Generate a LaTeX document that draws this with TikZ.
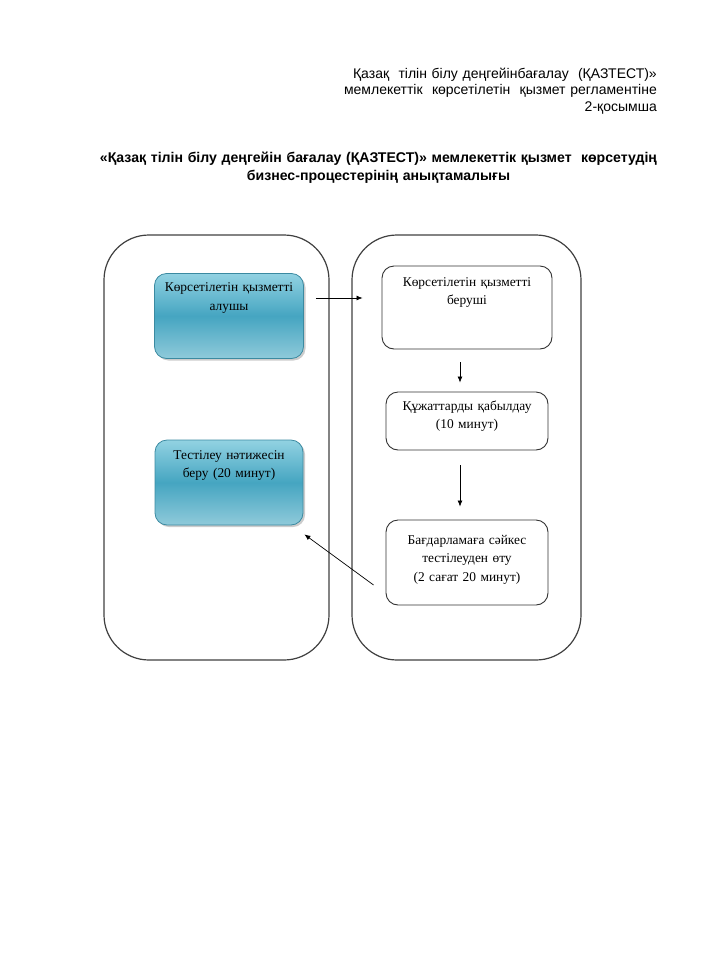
\documentclass[tikz,border=0pt]{standalone}
\usepackage{fontspec}
\setmainfont{Liberation Serif}
\newfontfamily\headfont{Liberation Sans}
\usetikzlibrary{positioning,shadows,arrows.meta}

\definecolor{bluetop}{HTML}{92D2E2}
\definecolor{bluemid}{HTML}{45A5C1}
\definecolor{bluebot}{HTML}{8FCADA}
\definecolor{blueline}{HTML}{3B8AA1}

\begin{document}
\begin{tikzpicture}[x=1pt, y=-1pt, on grid, >={Latex[length=6pt,width=5pt]},
    every node/.style={inner xsep=4pt, inner ysep=0pt, align=center,
      font=\fontsize{13.4}{18.5}\selectfont},
    lane/.style={draw=black!75, line width=1.2pt, rounded corners=45pt},
    client/.style={draw=blueline, line width=0.8pt, rounded corners=12pt,
      top color=bluetop, bottom color=bluebot, middle color=bluemid,
      drop shadow={shadow xshift=2pt, shadow yshift=-2pt, fill=black!40}},
    office/.style={draw=black!80, line width=0.9pt, rounded corners=12pt, fill=white},
    flow/.style={->, line width=0.7pt}]
  \useasboundingbox (0,0) rectangle (705,967);

  \node[text width=400pt, align=right, anchor=base east, inner xsep=0pt,
    font=\headfont\fontsize{14}{16.5}\selectfont] (h) at (657,78)
    {Қазақ \ тілін білу деңгейінбағалау \ (ҚАЗТЕСТ)»\\
     мемлекеттік \ көрсетілетін \ қызмет регламентіне\\
     2-қосымша};
  \node[text width=640pt, anchor=base, inner xsep=0pt,
    font=\headfont\bfseries\fontsize{14.1}{18}\selectfont] (t) at (378.5,162)
    {«Қазақ тілін білу деңгейін бағалау (ҚАЗТЕСТ)» мемлекеттік қызмет \ көрсетудің\\
     бизнес-процестерінің анықтамалығы};

  \node[lane, minimum width=225pt, minimum height=425pt] (a) at (216.5,447.5) {};
  \node[lane, minimum width=229pt, minimum height=425pt] (b) at (466.5,447.5) {};

  \node[client, text width=141pt, text height=18pt, text depth=67pt] (0) at (229,316)
    {Көрсетілетін қызметті\\алушы};
  \node[office, text width=162pt, text height=20pt, text depth=63pt] (1) at (467,307.5)
    {Көрсетілетін қызметті\\беруші};
  \node[office, text width=154pt, text height=18pt, text depth=40pt] (2) [below=113.5pt of 1]
    {Құжаттарды қабылдау\\(10 минут)};
  \node[office, text width=154pt, text height=24pt, text depth=61pt] (3) [below=141.5pt of 2]
    {Бағдарламаға сәйкес\\ тестілеуден өту\\(2 сағат 20 минут)};
  \node[client, text width=140pt, text height=19pt, text depth=66pt] (4) [below=166.5pt of 0]
    {Тестілеу нәтижесін\\беру (20 минут)};

  \path[flow]
    ([xshift=12pt,yshift=18pt]0.east) edge ([xshift=-19pt,yshift=9.5pt]1.west)
    ([xshift=-7pt,yshift=-13pt]1.south) edge ([xshift=-7pt,yshift=9pt]2.north)
    ([xshift=-7pt,yshift=-15pt]2.south) edge ([xshift=-7pt,yshift=13pt]3.north)
    ([xshift=-12pt,yshift=-22.5pt]3.west) edge ([xshift=1pt,yshift=-9pt]4.south east);
\end{tikzpicture}
\end{document}
